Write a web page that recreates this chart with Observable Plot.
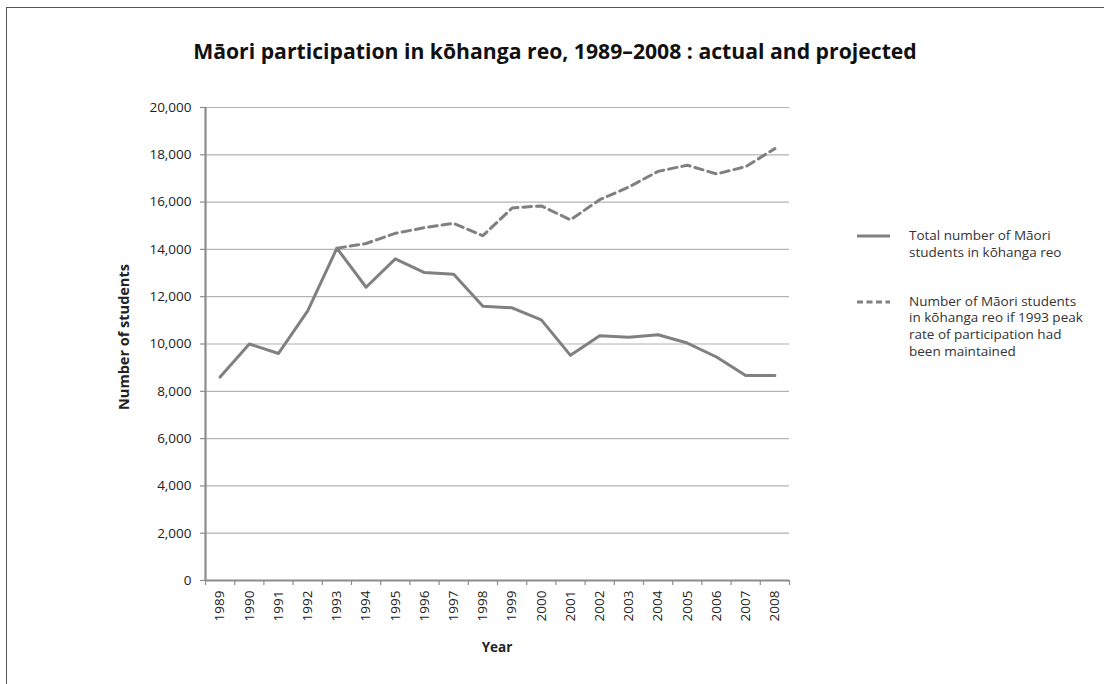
<!DOCTYPE html>
<html>
<head>
<meta charset="utf-8">
<script src="https://cdn.jsdelivr.net/npm/d3@7"></script>
<script src="https://cdn.jsdelivr.net/npm/@observablehq/plot@0.6"></script>
<style>
  html, body { margin: 0; padding: 0; background: #fff; }
  #wrap { position: relative; width: 1104px; height: 684px; overflow: hidden; font-family: "Open Sans", Lato, sans-serif; }
  .frame { position: absolute; left: 6px; top: 7px; width: 1200px; height: 800px; border-left: 1.5px solid #555; border-top: 1.5px solid #555; }
  .title { position: absolute; left: 0; width: 1110px; top: 36px; text-align: center; font-weight: 700; font-size: 21.2px; color: #111; white-space: nowrap; }
  #chart { position: absolute; left: 0; top: 0; }
  .ylab { position: absolute; left: 123px; top: 337px; transform: translate(-50%, -50%) rotate(-90deg); font-weight: 700; font-size: 14.5px; color: #222; white-space: nowrap; }
  .xlab { position: absolute; left: 497px; top: 647px; transform: translate(-50%, -50%); font-weight: 700; font-size: 13.5px; color: #222; white-space: nowrap; }
  .legend { position: absolute; left: 857px; top: 227px; font-size: 13.5px; color: #333; line-height: 16.8px; }
  .item { display: flex; align-items: flex-start; }
  .item svg { flex: none; margin-top: 6px; margin-right: 19px; }
</style>
</head>
<body>
<div id="wrap">
  <div class="frame"></div>
  <div class="title">Māori participation in kōhanga reo, 1989–2008 : actual and projected</div>
  <div id="chart"></div>
  <div class="ylab">Number of students</div>
  <div class="xlab">Year</div>
  <div class="legend" id="legend"></div>
</div>
<script>
const years = [1989, 1990, 1991, 1992, 1993, 1994, 1995, 1996, 1997, 1998,
               1999, 2000, 2001, 2002, 2003, 2004, 2005, 2006, 2007, 2008];
const actual = [8600, 10000, 9600, 11400, 14050, 12400, 13600, 13020, 12950, 11600,
                11530, 11020, 9520, 10350, 10290, 10390, 10040, 9450, 8670, 8670];
const projected = [null, null, null, null, 14050, 14250, 14680, 14920, 15100, 14580,
                   15750, 15840, 15250, 16100, 16640, 17300, 17560, 17190, 17500, 18260];
const yTicks = [0, 2000, 4000, 6000, 8000, 10000, 12000, 14000, 16000, 18000, 20000];
const seriesLabels = [
  ["Total number of Māori", "students in kōhanga reo"],
  ["Number of Māori students", "in kōhanga reo if 1993 peak", "rate of participation had", "been maintained"]
];
const lineColor = "#808080";

const rows = years.map((y, i) => ({year: y, actual: actual[i], projected: projected[i]}));
const boundaries = years.map(y => y - 0.5).concat([years[years.length - 1] + 0.5]);

const chart = Plot.plot({
  width: 1104,
  height: 684,
  marginLeft: 205,
  marginRight: 315,
  marginTop: 107,
  marginBottom: 104,
  style: {fontFamily: "'Open Sans', Lato, sans-serif", fontSize: "13.5px", color: "#222", background: "transparent", overflow: "visible"},
  x: {type: "linear", domain: [years[0] - 0.5, years[years.length - 1] + 0.5]},
  y: {domain: [0, 20000]},
  marks: [
    Plot.gridY(yTicks, {stroke: "#b3b3b3", strokeOpacity: 1, strokeWidth: 1.2}),
    Plot.axisY(yTicks, {tickFormat: d3.format(","), tickSize: 5, tickPadding: 9, stroke: "#8c8c8c", strokeWidth: 1.2, label: null}),
    Plot.axisX(years, {tickSize: 0, tickRotate: -90, tickFormat: d => String(d), tickPadding: 10, label: null}),
    Plot.axisX(boundaries, {tickSize: 5, tickFormat: () => "", stroke: "#8c8c8c", strokeWidth: 1.2, label: null}),
    Plot.ruleX([years[0] - 0.5], {stroke: "#8c8c8c", strokeWidth: 2.2}),
    Plot.ruleY([0], {stroke: "#8c8c8c", strokeWidth: 2.2}),
    Plot.line(rows, {x: "year", y: "projected", stroke: lineColor, strokeWidth: 3, strokeDasharray: "8.5,5"}),
    Plot.line(rows, {x: "year", y: "actual", stroke: lineColor, strokeWidth: 3})
  ]
});
document.getElementById("chart").appendChild(chart);

// legend
const legend = document.getElementById("legend");
const dashes = [null, "6,3.5"];
seriesLabels.forEach((lines, i) => {
  const item = document.createElement("div");
  item.className = "item";
  if (i > 0) item.style.marginTop = "32px";
  const dash = dashes[i] ? `stroke-dasharray="${dashes[i]}"` : "";
  item.innerHTML = `<svg width="33" height="6"><line x1="0" x2="33" y1="3" y2="3" stroke="${lineColor}" stroke-width="3" ${dash}/></svg><div>${lines.join("<br>")}</div>`;
  legend.appendChild(item);
});
</script>
</body>
</html>
